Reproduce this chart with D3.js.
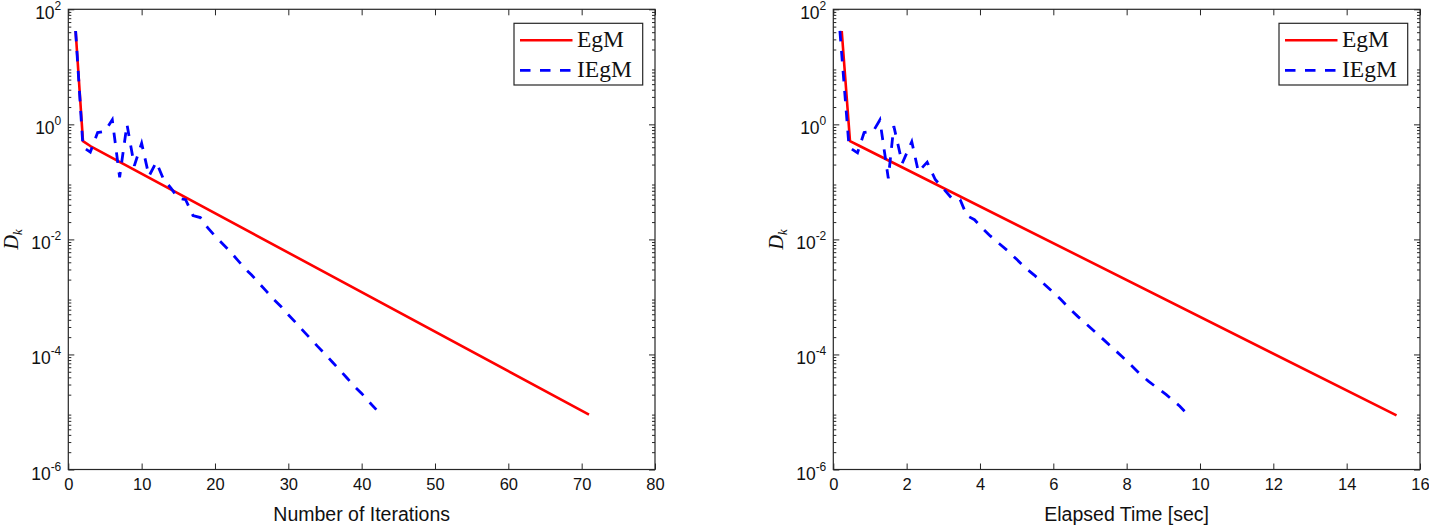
<!DOCTYPE html>
<html><head><meta charset="utf-8">
<script src="https://cdn.jsdelivr.net/npm/d3@7"></script>
<style>body{margin:0;background:#fff}svg{display:block}</style></head>
<body>
<svg id="chart" width="1429" height="527"></svg>
<script>
// ---------- data ----------
const seriesNames = ["EgM", "IEgM"];
// left panel: D_k vs iteration
const egmIter = [1, 2, 3, 71];
const egmD    = [42, 0.51, 0.42, 9.0e-6];
const iegmIter = [1,2,3,4,5,6,7,8,9,10,11,12,13,14,15,16,17,18,19,20,21,22,23,24,25,26,27,28,29,30,31,32,33,34,35,36,37,38,39,40,41,42];
const iegmD    = [42,0.40,0.33,0.72,0.76,1.2,0.12,1.0,0.19,0.47,0.126,0.22,0.11,0.078,0.052,0.049,0.026,0.024,0.016,0.0115,
                  0.0085,0.0063,0.0045,0.0032,0.0024,0.00174,0.00126,0.00091,0.00068,0.00049,0.00036,0.00026,0.00019,0.000138,
                  0.000102,7.4e-5,5.4e-5,3.9e-5,2.8e-5,2.1e-5,1.5e-5,1.1e-5];
// right panel: D_k vs elapsed time
const egmTime = [0.23, 0.455, 0.72, 15.36];
const egmDT   = [42, 0.51, 0.42, 8.7e-6];
const iegmTime = [0.18,0.43,0.66,0.84,1.09,1.27,1.50,1.65,1.88,2.14,2.32,2.56,2.78,2.99,3.23,3.46,3.64,3.85,4.05,4.28,
                  4.52,4.76,5.00,5.24,5.48,5.72,5.96,6.20,6.44,6.68,6.92,7.16,7.40,7.64,7.88,8.12,8.36,8.60,8.84,9.08,9.45,9.75];
const iegmDT   = [42,0.40,0.32,0.72,0.76,1.19,0.115,0.93,0.21,0.50,0.15,0.22,0.11,0.078,0.052,0.049,0.026,0.022,0.016,0.0115,
                  0.0085,0.0063,0.0045,0.0032,0.0024,0.00174,0.00126,0.00091,0.00063,0.00045,0.00033,0.00024,0.000174,0.000126,
                  9.1e-5,6.5e-5,4.6e-5,3.4e-5,2.6e-5,2.0e-5,1.26e-5,7.9e-6];
const xTicksLeft  = [0,10,20,30,40,50,60,70,80];
const xTicksRight = [0,2,4,6,8,10,12,14,16];
const yTickExps   = [2,0,-2,-4,-6];
const xLabels = ["Number of Iterations", "Elapsed Time [sec]"];

// ---------- layout ----------
const svg = d3.select("#chart");
const plotTop = 9.3, plotBottom = 469.5;
const axisColor = "#262626";
const y = d3.scaleLog().domain([1e-6, 1e2]).range([plotBottom, plotTop]);
const yMajor = yTickExps.map(e => Math.pow(10, e));
const yMinor = [];
for (let e = -6; e < 2; e++) for (let m = 2; m <= 9; m++) yMinor.push(m * Math.pow(10, e));

const panels = [
  {left: 68.3, right: 655, xmax: 80, xt: xTicksLeft, label: xLabels[0],
   red: {x: egmIter, y: egmD}, blue: {x: iegmIter, y: iegmD}},
  {left: 833.3, right: 1420, xmax: 16, xt: xTicksRight, label: xLabels[1],
   red: {x: egmTime, y: egmDT}, blue: {x: iegmTime, y: iegmDT}}
];

panels.forEach(p => {
  const x = d3.scaleLinear().domain([0, p.xmax]).range([p.left, p.right]);
  const g = svg.append("g");

  // series
  const line = d3.line().x(d => x(d[0])).y(d => y(d[1]));
  const redPts = p.red.x.map((v, i) => [v, p.red.y[i]]);
  const bluePts = p.blue.x.map((v, i) => [v, p.blue.y[i]]);
  g.append("path").attr("d", line(redPts)).attr("fill", "none")
    .attr("stroke", "#ff0000").attr("stroke-width", 2.6).attr("stroke-linejoin", "round");
  g.append("path").attr("d", line(bluePts)).attr("fill", "none")
    .attr("stroke", "#0000ff").attr("stroke-width", 2.8).attr("stroke-dasharray", "10.5,9.5");

  // axes (inward ticks)
  const styleAxis = sel => { sel.select(".domain").remove(); sel.selectAll("line").attr("stroke", axisColor); };
  g.append("g").attr("transform", `translate(0,${plotBottom})`)
    .call(d3.axisBottom(x).tickValues(p.xt).tickSizeInner(-6).tickSizeOuter(0).tickPadding(9).tickFormat(d3.format("d")))
    .call(styleAxis)
    .selectAll("text").attr("font-family", "Liberation Sans, Arial, sans-serif").attr("font-size", 16.5).attr("fill", "#111");
  g.append("g").attr("transform", `translate(0,${plotTop})`)
    .call(d3.axisTop(x).tickValues(p.xt).tickSizeInner(-6).tickSizeOuter(0).tickFormat(""))
    .call(styleAxis);
  g.append("g").attr("transform", `translate(${p.left},0)`)
    .call(d3.axisLeft(y).tickValues(yMajor).tickSizeInner(-6).tickSizeOuter(0).tickFormat(""))
    .call(styleAxis);
  g.append("g").attr("transform", `translate(${p.left},0)`)
    .call(d3.axisLeft(y).tickValues(yMinor).tickSizeInner(-3).tickSizeOuter(0).tickFormat(""))
    .call(styleAxis);
  g.append("g").attr("transform", `translate(${p.right},0)`)
    .call(d3.axisRight(y).tickValues(yMajor).tickSizeInner(-6).tickSizeOuter(0).tickFormat(""))
    .call(styleAxis);
  g.append("g").attr("transform", `translate(${p.right},0)`)
    .call(d3.axisRight(y).tickValues(yMinor).tickSizeInner(-3).tickSizeOuter(0).tickFormat(""))
    .call(styleAxis);

  // box
  g.append("rect").attr("x", p.left).attr("y", plotTop).attr("width", p.right - p.left).attr("height", plotBottom - plotTop)
    .attr("fill", "none").attr("stroke", axisColor).attr("stroke-width", 1.2);

  // y tick labels 10^e
  yTickExps.forEach(e => {
    const t = g.append("text").attr("x", p.left - 7).attr("y", y(Math.pow(10, e)) + 10)
      .attr("text-anchor", "end").attr("font-family", "Liberation Sans, Arial, sans-serif").attr("fill", "#111");
    t.append("tspan").attr("font-size", 17.5).text("10");
    t.append("tspan").attr("font-size", 12).attr("dy", -9).text(String(e));
  });

  // x label
  g.append("text").attr("x", (p.left + p.right) / 2).attr("y", 521).attr("text-anchor", "middle")
    .attr("font-family", "Liberation Sans, Arial, sans-serif").attr("font-size", 19.5).attr("fill", "#111").text(p.label);

  // y label D_k
  const yl = g.append("text").attr("transform", `translate(${p.left - 50},${(plotTop + plotBottom) / 2}) rotate(-90)`)
    .attr("text-anchor", "middle").attr("font-family", "Liberation Serif, Times New Roman, serif")
    .attr("font-style", "italic").attr("fill", "#111");
  yl.append("tspan").attr("font-size", 20).text("D");
  yl.append("tspan").attr("font-size", 13.5).attr("dy", 4).text("k");

  // legend
  const lx = p.right - 141, ly = 23.3, lw = 128.7, lh = 61.7;
  const lg = g.append("g");
  lg.append("rect").attr("x", lx).attr("y", ly).attr("width", lw).attr("height", lh)
    .attr("fill", "#fff").attr("stroke", axisColor).attr("stroke-width", 1.2);
  [["#ff0000", null, 2.6], ["#0000ff", "10.5,9.5", 2.8]].forEach((s, i) => {
    const yy = ly + 17 + i * 30;
    lg.append("line").attr("x1", lx + 6).attr("x2", lx + 58.5).attr("y1", yy).attr("y2", yy)
      .attr("stroke", s[0]).attr("stroke-width", s[2]).attr("stroke-dasharray", s[1]);
    lg.append("text").attr("x", lx + 63).attr("y", yy + 7)
      .attr("font-family", "Liberation Serif, Times New Roman, serif").attr("font-size", 23.5).attr("fill", "#111")
      .text(seriesNames[i]);
  });
});
</script>
</body></html>
